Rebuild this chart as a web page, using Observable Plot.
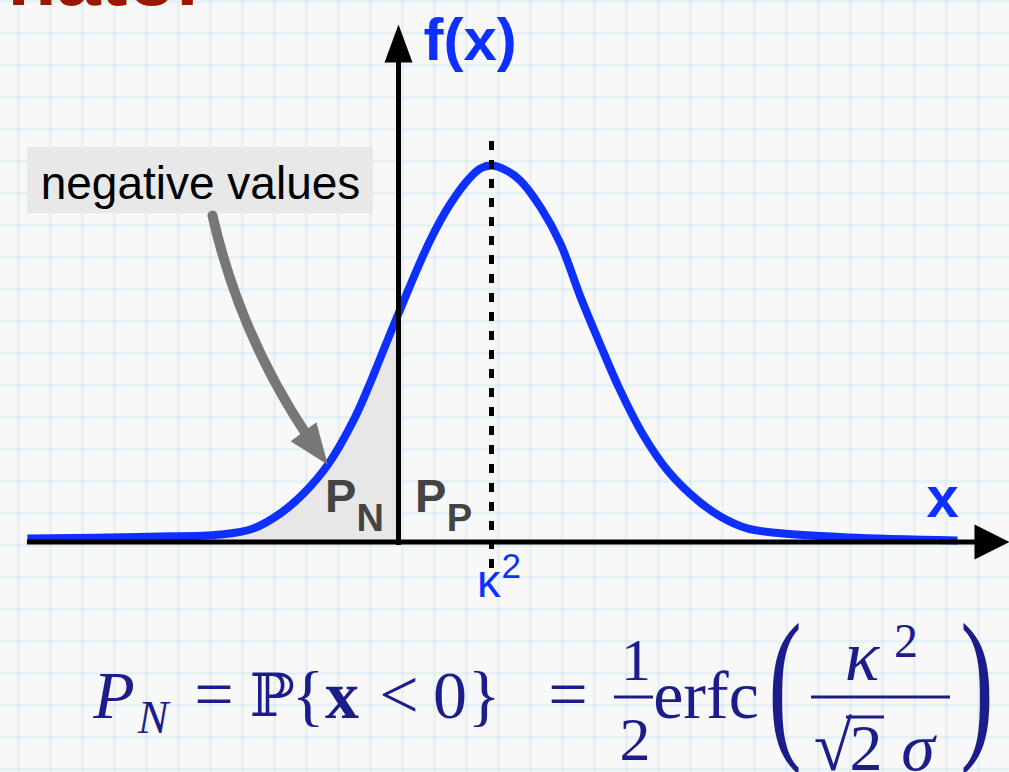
<!DOCTYPE html>
<html>
<head>
<meta charset="utf-8">
<script src="https://cdn.jsdelivr.net/npm/d3@7"></script>
<script src="https://cdn.jsdelivr.net/npm/@observablehq/plot@0.6"></script>
<style>
  html, body { margin: 0; padding: 0; }
  body {
    width: 1009px; height: 772px; overflow: hidden;
    background-color: #f8f8f8;
    background-image:
      linear-gradient(to right, rgba(200, 228, 240, 0.36) 3px, transparent 3px),
      linear-gradient(to bottom, rgba(200, 228, 240, 0.36) 3px, transparent 3px);
    background-size: 32px 32px;
    background-position: 17px 0px;
  }
  #stage { position: relative; width: 1009px; height: 772px; }
  #stage > svg { position: absolute; left: 0; top: 0; }
  #formula { pointer-events: none; }
  #formula text { font-family: "Liberation Serif", "DejaVu Serif", serif; fill: #1c1c8a; }
  #formula line { stroke: #1c1c8a; stroke-width: 3; }
</style>
</head>
<body>
<div id="stage"></div>
<script>
// Gaussian-shaped density f(x): x in units of sigma, f scaled so that the peak is 1.
const curveX = [-3.99, -2.67, -1.91, -1.56, -1.27, -1.02, -0.76, -0.48, -0.30, -0.19, 0,
                0.34, 0.56, 0.77, 0.88, 1.00, 1.15, 1.31, 1.53, 1.74, 1.96, 2.16, 2.37, 2.63, 2.91,
                3.23, 3.48, 3.75, 4.11, 4.83, 6.01];
const curveF = [0.009, 0.014, 0.020, 0.036, 0.076, 0.129, 0.205, 0.325, 0.425, 0.492, 0.607,
                0.801, 0.899, 0.968, 0.992, 1.000, 0.988, 0.960, 0.888, 0.793, 0.649, 0.530, 0.410, 0.285, 0.185,
                0.108, 0.065, 0.036, 0.023, 0.012, 0.004];
// Mean of the distribution (kappa squared)
const kappaSq = 1;
// Point on the curve the "negative values" callout points at
const calloutX = -0.76;

const curve = curveX.map((x, i) => ({x, y: curveF[i]}));
const negative = curve.filter(d => d.x <= 0);
const target = curve.find(d => d.x === calloutX);

const blue = "#0d30ff";
const sans = "Liberation Sans, Arial, Helvetica, sans-serif";

// Filled arrowhead with its tip at the origin, pointing up.
const head = (len, half) => ({
  draw(ctx) {
    ctx.moveTo(0, 0);
    ctx.lineTo(-half, len);
    ctx.lineTo(half, len);
    ctx.closePath();
  }
});

const chart = Plot.plot({
  width: 1009,
  height: 772,
  margin: 0,
  style: {background: "transparent", overflow: "visible"},
  x: {domain: [-398 / 93, 611 / 93], axis: null},
  y: {domain: [-230.5 / 376.5, 541.5 / 376.5], axis: null},
  marks: [
    // callout label box
    Plot.rect([0], {x1: -3.99, x2: -0.269, y1: 0.872, y2: 1.048, fill: "#e8e8e8"}),
    // P_N: area of the density below zero
    Plot.areaY(negative, {x: "x", y: "y", fill: "#e7e7e7", curve: "catmull-rom"}),
    // density curve
    Plot.line(curve, {x: "x", y: "y", stroke: blue, strokeWidth: 8, curve: "catmull-rom", strokeLinecap: "butt"}),
    // axes
    Plot.ruleY([0], {x1: -3.99, x2: 6.31, stroke: "black", strokeWidth: 5}),
    Plot.ruleX([0], {y1: -0.0093, y2: 1.33, stroke: "black", strokeWidth: 5}),
    Plot.dot([{x: 6.57, y: 0}], {x: "x", y: "y", r: 5, symbol: head(35, 17.5), rotate: 90, fill: "black", stroke: null}),
    Plot.dot([{x: 0, y: 1.3745}], {x: "x", y: "y", r: 5, symbol: head(38, 14), fill: "black", stroke: null}),
    // mean marker
    Plot.ruleX([kappaSq], {y1: 1.0637, y2: -0.0704, stroke: "black", strokeWidth: 5, strokeDasharray: "9,10"}),
    // callout arrow
    Plot.arrow([target], {x1: -2.0, y1: 0.867, x2: "x", y2: "y", bend: -12, headLength: 0,
      insetEnd: 36, stroke: "#777777", strokeWidth: 10}),
    Plot.dot([target], {x: "x", y: "y", r: 5, symbol: head(41, 16), rotate: 143.6, fill: "#777777", stroke: null}),
    // texts
    Plot.text(["negative values"], {x: -2.129, y: 0.9097, text: d => d, textAnchor: "middle", lineAnchor: "bottom",
      fontSize: 46, fontFamily: sans, fill: "black"}),
    Plot.text(["f(x)"], {x: 0.2688, y: 1.2789, text: d => d, textAnchor: "start", lineAnchor: "bottom",
      fontSize: 60, fontWeight: "bold", fontFamily: sans, fill: blue}),
    Plot.text(["x"], {x: 5.677, y: 0.0651, text: d => d, textAnchor: "start", lineAnchor: "bottom",
      fontSize: 58, fontWeight: "bold", fontFamily: sans, fill: blue}),
    Plot.text(["P"], {x: -0.79, y: 0.0784, text: d => d, textAnchor: "start", lineAnchor: "bottom",
      fontSize: 47, fontWeight: "bold", fontFamily: sans, fill: "#444444"}),
    Plot.text(["N"], {x: -0.452, y: 0.0279, text: d => d, textAnchor: "start", lineAnchor: "bottom",
      fontSize: 38, fontWeight: "bold", fontFamily: sans, fill: "#444444"}),
    Plot.text(["P"], {x: 0.177, y: 0.0784, text: d => d, textAnchor: "start", lineAnchor: "bottom",
      fontSize: 47, fontWeight: "bold", fontFamily: sans, fill: "#444444"}),
    Plot.text(["P"], {x: 0.519, y: 0.0305, text: d => d, textAnchor: "start", lineAnchor: "bottom",
      fontSize: 38, fontWeight: "bold", fontFamily: sans, fill: "#444444"}),
    Plot.text([kappaSq], {x: d => d, y: -0.1474, text: () => "κ", dx: 9, textAnchor: "end", lineAnchor: "bottom",
      fontSize: 47, fontFamily: sans, fill: blue}),
    Plot.text([kappaSq], {x: d => d, y: -0.0969, text: () => "2", dx: 10, textAnchor: "start", lineAnchor: "bottom",
      fontSize: 35, fontFamily: sans, fill: blue}),
    // slide title (runs off the top edge)
    Plot.text(["nator"], {x: -2.054, y: 1.425, text: d => d, textAnchor: "end", lineAnchor: "bottom",
      fontSize: 80, fontWeight: "bold", fontFamily: sans, fill: "#9a1800"})
  ]
});
document.getElementById("stage").appendChild(chart);

// Formula for the probability of negative values
const formula = `
<svg id="formula" width="1009" height="772" viewBox="0 0 1009 772" xmlns="http://www.w3.org/2000/svg">
  <text x="114" y="718" font-size="68" font-style="italic" text-anchor="middle">P</text>
  <text x="153" y="733" font-size="46" font-style="italic" text-anchor="middle">N</text>
  <text x="214" y="718" font-size="70" text-anchor="middle">=</text>
  <text x="272" y="716" font-size="60" text-anchor="middle" style="font-family:'DejaVu Serif','DejaVu Sans',serif;font-weight:300">ℙ</text>
  <text x="308" y="718" font-size="68" text-anchor="middle">{</text>
  <text x="342" y="718" font-size="68" font-weight="bold" text-anchor="middle">x</text>
  <text x="399" y="718" font-size="70" text-anchor="middle">&lt;</text>
  <text x="450" y="718" font-size="68" text-anchor="middle">0</text>
  <text x="484" y="718" font-size="68" text-anchor="middle">}</text>
  <text x="568" y="718" font-size="70" text-anchor="middle">=</text>
  <text x="636" y="680" font-size="60" text-anchor="middle">1</text>
  <line x1="614" x2="653" y1="697" y2="697"></line>
  <text x="635" y="760" font-size="62" text-anchor="middle">2</text>
  <text x="706" y="718" font-size="68" text-anchor="middle">erfc</text>
  <text transform="translate(785,739) scale(0.6,1)" font-size="168" text-anchor="middle">(</text>
  <text x="862" y="680" font-size="72" font-style="italic" text-anchor="middle">κ</text>
  <text x="906" y="657" font-size="48" text-anchor="middle">2</text>
  <line x1="811" x2="950" y1="697" y2="697"></line>
  <text x="833" y="770" font-size="70" text-anchor="middle">√</text>
  <line x1="846" x2="884" y1="717" y2="717"></line>
  <text x="866" y="770" font-size="66" text-anchor="middle">2</text>
  <text x="918" y="770" font-size="68" font-style="italic" text-anchor="middle">σ</text>
  <text transform="translate(977,739) scale(0.6,1)" font-size="168" text-anchor="middle">)</text>
</svg>`;
document.getElementById("stage").insertAdjacentHTML("beforeend", formula);
</script>
</body>
</html>
